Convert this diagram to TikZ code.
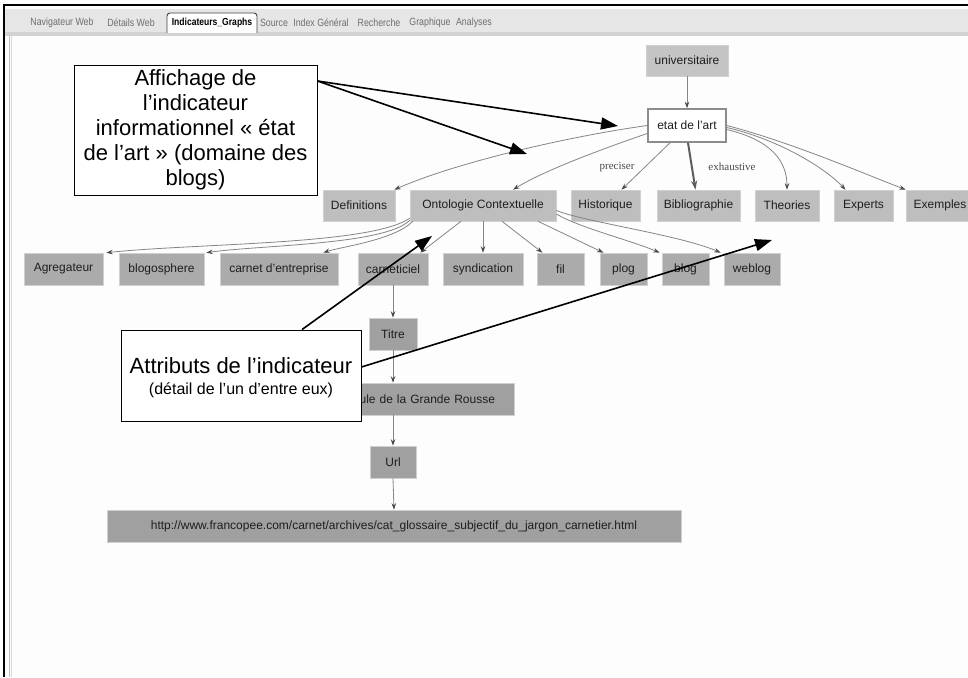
\documentclass[tikz,border=0pt]{standalone}
\usepackage{fontspec}
\setmainfont{Liberation Sans}
\newfontfamily\lblserif{Liberation Serif}
\newfontfamily\tabfont[FakeStretch=0.84]{Liberation Sans}
\usetikzlibrary{arrows.meta}
\definecolor{rowA}{HTML}{BEBEBE}
\definecolor{rowU}{HTML}{C4C4C4}
\definecolor{rowB}{HTML}{ABABAB}
\definecolor{rowC}{HTML}{A0A0A0}
\definecolor{edgeC}{HTML}{858585}
\definecolor{headC}{HTML}{4A4A4A}
\definecolor{boxEdge}{HTML}{D0D0D0}
\definecolor{tabText}{HTML}{6E6E6E}
\definecolor{tabBar}{HTML}{E6E6E6}
\definecolor{tabLine}{HTML}{D2D2D2}
\definecolor{paneBg}{HTML}{FDFDFD}
\definecolor{nodeText}{HTML}{1E1E1E}
\begin{document}
\begin{tikzpicture}[x=1pt,y=-1pt,
  gbox/.style={draw=boxEdge, line width=0.6pt, inner sep=0pt, font=\fontsize{12}{14}\selectfont, text=nodeText},
  rowone/.style={gbox, fill=rowA, minimum height=31pt},
  rowtwo/.style={gbox, fill=rowB, minimum height=32pt},
  chainbox/.style={gbox, fill=rowC, minimum height=32pt},
  edge/.style={draw=edgeC, line width=0.8pt, -{Stealth[length=6.5pt,width=4.5pt,fill=headC,color=headC]}},
  thickedge/.style={draw=headC!90, line width=2pt, -{Stealth[length=9pt,width=6pt]}},
  lbl/.style={font=\lblserif\fontsize{11}{12}\selectfont, text=headC, inner sep=0pt},
  tabtxt/.style={font=\tabfont\fontsize{10.5}{12}\selectfont, text=tabText, inner sep=0pt},
  callout/.style={draw=black, line width=0.9pt, fill=white, inner sep=0pt, align=center},
  calltext/.style={inner sep=0pt, text=black},
  callarrow/.style={draw=black, line width=1.6pt, -{Triangle[length=17pt,width=12pt]}}
]
\useasboundingbox (0,0) rectangle (968,677);
\clip (0,0) rectangle (968,677);
\fill[white] (0,0) rectangle (968,677);
% window chrome
\fill[paneBg] (5,5) rectangle (968,677);
\fill[tabBar] (5,9) rectangle (968,32);
\fill[tabLine] (5,32) rectangle (968,36);
\draw[black!25, line width=0.8pt] (9,36) -- (9,677);
\draw[black!15, line width=0.8pt] (11.5,36) -- (11.5,677);
\draw[black, line width=1.3pt] (4,677) -- (4,5) -- (968,5);
\draw[fill=white, draw=black!75, line width=0.9pt, rounded corners=3pt] (167,33) -- (167,13) -- (257,13) -- (257,33);
\node[tabtxt] (tNav) at (62,23) {Navigateur Web};
\node[tabtxt] (tDet) at (131,23) {Détails Web};
\node[font=\tabfont\fontsize{10.2}{12}\selectfont\bfseries, inner sep=0pt] (tInd) at (212,23) {Indicateurs\_Graphs};
\node[tabtxt] (tSrc) at (274,23) {Source};
\node[tabtxt] (tIdx) at (321,23) {Index Général};
\node[tabtxt] (tRec) at (379,23) {Recherche};
\node[tabtxt] (tGra) at (430,23) {Graphique};
\node[tabtxt] (tAna) at (474,23) {Analyses};

% graph nodes
\node[gbox, fill=rowU, minimum width=82pt, minimum height=31pt] (univ) at (687,60.5) {universitaire};
\node[gbox, fill=white, draw=black!45, line width=1.6pt, minimum width=78pt, minimum height=33pt] (etat) at (687,125.5) {etat de l'art};

\node[rowone, minimum width=72pt] (def) at (359,205.5) {Definitions};
\node[rowone, minimum width=146pt] (ont) at (483,205.5) {Ontologie Contextuelle};
\node[rowone, minimum width=69pt] (hist) at (605.5,205.5) {Historique};
\node[rowone, minimum width=83pt] (bib) at (698.5,205.5) {Bibliographie};
\node[rowone, minimum width=64pt] (theo) at (787,205.5) {Theories};
\node[rowone, minimum width=59pt] (exp) at (863.5,205.5) {Experts};
\node[rowone, minimum width=68pt] (exe) at (940,205.5) {Exemples};

\node[rowtwo, minimum width=79pt] (agr) at (63.5,269) {Agregateur};
\node[rowtwo, minimum width=85pt] (blo) at (161.5,269) {blogosphere};
\node[rowtwo, minimum width=118pt] (car) at (279,269) {carnet d'entreprise};
\node[rowtwo, minimum width=70pt] (cnt) at (393,269) {carneticiel};
\node[rowtwo, minimum width=80pt] (syn) at (483,269) {syndication};
\node[rowtwo, minimum width=47pt] (fil) at (560.5,269) {fil};
\node[rowtwo, minimum width=47pt] (plo) at (623.5,269) {plog};
\node[rowtwo, minimum width=47pt] (blg) at (685.5,269) {blog};
\node[rowtwo, minimum width=56pt] (web) at (752,269) {weblog};

\node[chainbox, minimum width=48pt] (tit) at (393,334) {Titre};
\node[chainbox, text width=204pt, align=right, inner xsep=19pt] (rou) at (393,399) {ule de la Grande Rousse};
\node[chainbox, minimum width=46pt] (url) at (393,462) {Url};
\node[chainbox, minimum width=574pt] (big) at (394,526) {http://www.francopee.com/carnet/archives/cat\_glossaire\_subjectif\_du\_jargon\_carnetier.html};

% graph edges
\draw[edge] (univ.south) -- (etat.north);
\draw[edge] (etat.west) .. controls (565,137) and (455,163) .. ([xshift=-1pt]def.north east);
\draw[edge] ([yshift=-8pt]etat.west) .. controls (605,148) and (545,170) .. ([xshift=30pt]ont.north);
\draw[edge] ([xshift=-17pt]etat.south) -- ([xshift=16pt]hist.north);
\draw[thickedge] ([xshift=1pt]etat.south) -- ([xshift=-3pt]bib.north);
\draw[edge] ([yshift=-4pt]etat.east) .. controls (770,140) and (787,160) .. (theo.north);
\draw[edge] ([yshift=-2pt]etat.east) .. controls (780,140) and (825,168) .. ([xshift=-18pt]exp.north);
\draw[edge] (etat.east) .. controls (790,142) and (860,172) .. (exe.north west);
\node[lbl] (lp) at (617,167) {preciser};
\node[lbl] (le) at (732,167) {exhaustive};

\draw[edge] ([yshift=3pt]ont.south west) .. controls (370,245) and (200,243) .. ([xshift=3pt]agr.north east);
\draw[edge] ([yshift=1pt]ont.south west) .. controls (385,245) and (260,245) .. ([xshift=2pt]blo.north east);
\draw[edge] ([xshift=3pt]ont.south west) .. controls (395,240) and (340,247) .. ([xshift=-15pt]car.north east);
\draw[edge] ([xshift=-22pt]ont.south) -- ([xshift=-8pt]cnt.north east);
\draw[edge] (ont.south) -- (syn.north);
\draw[edge] ([xshift=19pt]ont.south) -- ([xshift=-18pt]fil.north);
\draw[edge] ([xshift=55pt]ont.south) -- ([xshift=-20pt]plo.north);
\draw[edge] ([yshift=-8.5pt]ont.east) .. controls (580,228) and (630,240) .. ([xshift=-2pt]blg.north west);
\draw[edge] ([yshift=-5pt]ont.east) .. controls (585,222) and (680,235) .. ([xshift=-3pt]web.north west);

\draw[edge] (cnt.south) -- (tit.north);
\draw[edge] (tit.south) -- (rou.north);
\draw[edge] (rou.south) -- (url.north);
\draw[edge] (url.south) -- (big.north);

% callouts
\node[callout, minimum width=243pt, minimum height=130pt, font=\fontsize{22}{25}\selectfont] (c1) at (195.5,130) {Affichage de\\l’indicateur\\informationnel « état\\de l’art » (domaine des\\blogs)};
\node[callout, minimum width=240pt, minimum height=91pt] (c2) at (241,375.5) {};
\node[calltext, font=\fontsize{22}{24}\selectfont] (c2a) at (241,366) {Attributs de l’indicateur};
\node[calltext, font=\fontsize{16}{18}\selectfont] (c2b) at (241,390) {(détail de l’un d’entre eux)};

\coordinate (t1) at (618,126);
\coordinate (t2) at (527,154);
\coordinate (t3) at (432,236);
\coordinate (t4) at (772,240);
\draw[callarrow] ([yshift=49pt]c1.east) -- (t1);
\draw[callarrow] ([yshift=49pt]c1.east) -- (t2);
\draw[callarrow] ([xshift=61pt]c2.north) -- (t3);
\draw[callarrow] ([yshift=8.5pt]c2.east) -- (t4);
\end{tikzpicture}
\end{document}
